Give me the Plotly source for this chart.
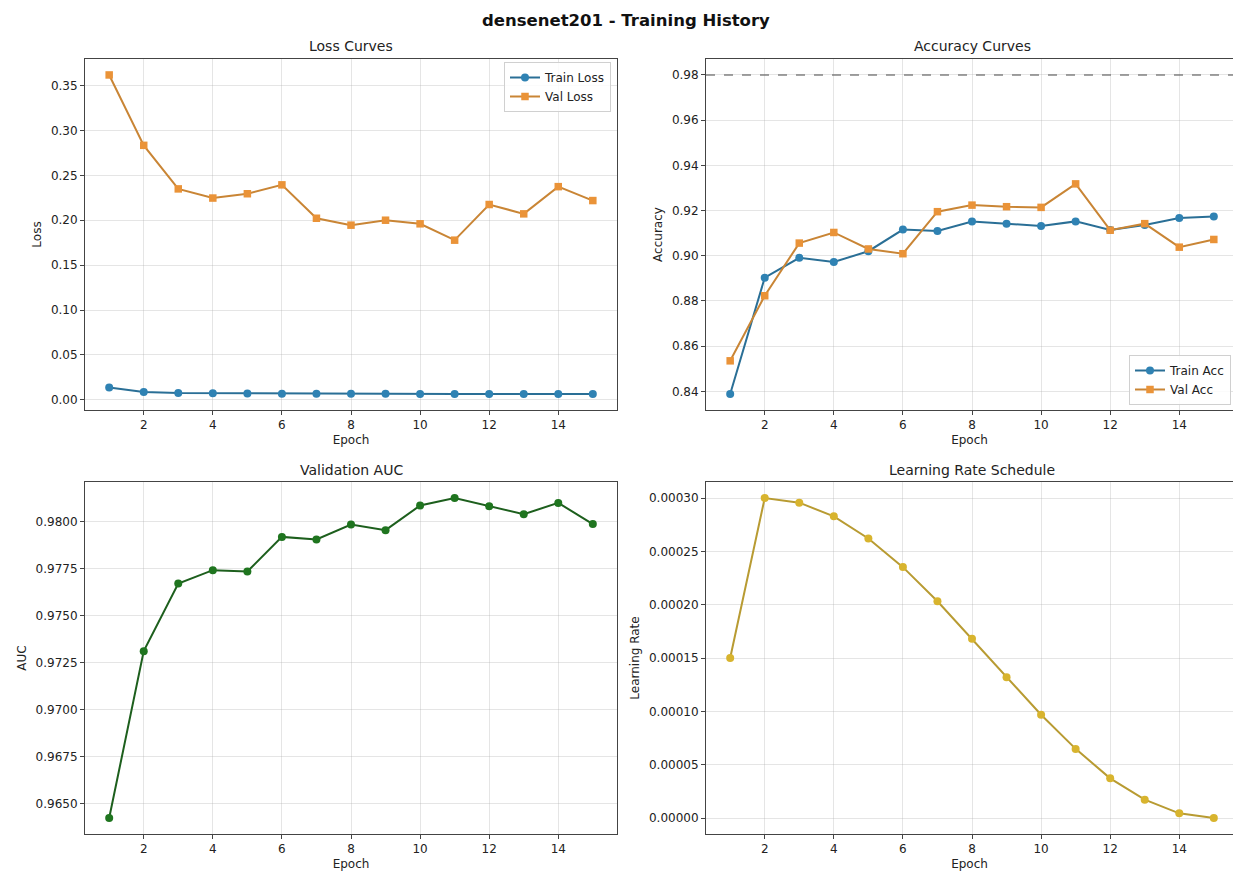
import plotly.graph_objects as go

epochs = list(range(1, 16))
train_loss = [0.0136, 0.0088, 0.0075, 0.0073, 0.0070, 0.0068, 0.0067, 0.0066, 0.0066, 0.0065, 0.0065, 0.0065, 0.0065, 0.0064, 0.0064]
val_loss = [0.3618, 0.2834, 0.2349, 0.2247, 0.2295, 0.2394, 0.2022, 0.1945, 0.2000, 0.1960, 0.1778, 0.2175, 0.2071, 0.2374, 0.2219]
train_acc = [0.8388, 0.8903, 0.8991, 0.8972, 0.9020, 0.9116, 0.9110, 0.9151, 0.9142, 0.9132, 0.9152, 0.9114, 0.9136, 0.9167, 0.9174]
val_acc = [0.8535, 0.8823, 0.9056, 0.9103, 0.9030, 0.9009, 0.9195, 0.9224, 0.9217, 0.9214, 0.9318, 0.9113, 0.9142, 0.9038, 0.9072]
val_auc = [0.96424, 0.97312, 0.97672, 0.97743, 0.97736, 0.97920, 0.97906, 0.97986, 0.97956, 0.98087, 0.98127, 0.98083, 0.98041, 0.98101, 0.97988]
learning_rate = [0.000150, 0.000300, 0.0002956, 0.0002828, 0.000262, 0.0002352, 0.0002032, 0.000168, 0.000132, 0.0000968, 0.0000648, 0.0000372, 0.0000172, 0.0000044, 0.0]
target_acc = 0.98

x_ticks = [2, 4, 6, 8, 10, 12, 14]
loss_ticks = [0.00, 0.05, 0.10, 0.15, 0.20, 0.25, 0.30, 0.35]
acc_ticks = [0.84, 0.86, 0.88, 0.90, 0.92, 0.94, 0.96, 0.98]
auc_ticks = [0.9650, 0.9675, 0.9700, 0.9725, 0.9750, 0.9775, 0.9800]
lr_ticks = [0.0, 0.00005, 0.00010, 0.00015, 0.00020, 0.00025, 0.00030]

W, H = 1233, 875
FONT = "DejaVu Sans"

def px_x(p):
    return p / W

def px_y(p):
    return 1 - p / H

def pad_range(vals):
    lo, hi = min(vals), max(vals)
    m = (hi - lo) * 0.05
    return [lo - m, hi + m]

C_TRAIN_L, C_TRAIN_M = "#2a6f96", "#2f82b3"
C_VAL_L, C_VAL_M = "#c98535", "#ea9338"
C_AUC_L, C_AUC_M = "#1d5f1d", "#1f751f"
C_LR_L, C_LR_M = "#b89b32", "#d8b42e"

fig = go.Figure()

fig.add_trace(go.Scatter(x=epochs, y=train_loss, mode="lines+markers", name="Train Loss",
                         line=dict(color=C_TRAIN_L, width=2), marker=dict(color=C_TRAIN_M, size=8, symbol="circle"),
                         xaxis="x", yaxis="y", legend="legend"))
fig.add_trace(go.Scatter(x=epochs, y=val_loss, mode="lines+markers", name="Val Loss",
                         line=dict(color=C_VAL_L, width=2), marker=dict(color=C_VAL_M, size=7.5, symbol="square"),
                         xaxis="x", yaxis="y", legend="legend"))
fig.add_trace(go.Scatter(x=epochs, y=train_acc, mode="lines+markers", name="Train Acc",
                         line=dict(color=C_TRAIN_L, width=2), marker=dict(color=C_TRAIN_M, size=8, symbol="circle"),
                         xaxis="x2", yaxis="y2", legend="legend2"))
fig.add_trace(go.Scatter(x=epochs, y=val_acc, mode="lines+markers", name="Val Acc",
                         line=dict(color=C_VAL_L, width=2), marker=dict(color=C_VAL_M, size=7.5, symbol="square"),
                         xaxis="x2", yaxis="y2", legend="legend2"))
fig.add_trace(go.Scatter(x=epochs, y=val_auc, mode="lines+markers", name="Val AUC", showlegend=False,
                         line=dict(color=C_AUC_L, width=2), marker=dict(color=C_AUC_M, size=8, symbol="circle"),
                         xaxis="x3", yaxis="y3"))
fig.add_trace(go.Scatter(x=epochs, y=learning_rate, mode="lines+markers", name="Learning Rate", showlegend=False,
                         line=dict(color=C_LR_L, width=2), marker=dict(color=C_LR_M, size=8, symbol="circle"),
                         xaxis="x4", yaxis="y4"))

fig.add_shape(type="line", xref="x2 domain", yref="y2", x0=0, x1=1, y0=target_acc, y1=target_acc,
              line=dict(color="rgba(110,110,110,0.85)", width=1.5, dash="dash"), layer="above")

left_dom = [px_x(85), px_x(617)]
right_dom = [px_x(706), 1.0]
top_dom = [px_y(410), px_y(59)]
bot_dom = [px_y(834), px_y(482)]

# right panels extend slightly past the page edge in the reference
right_xmax = 15.7 - (1238 - 1233) / 532 * 15.4

grid_c = "rgba(170,170,170,0.3)"
axis_c = "#444444"
tick_font = dict(family=FONT, size=12, color="#222222")
title_font = dict(family=FONT, size=12, color="#222222")

def xax(dom, anchor, rng):
    return dict(domain=dom, anchor=anchor, range=rng, tickmode="array", tickvals=x_ticks,
                ticks="outside", ticklen=4, tickcolor=axis_c, showline=True, linecolor=axis_c, linewidth=1,
                mirror=True, showgrid=True, gridcolor=grid_c, gridwidth=1, zeroline=False,
                tickfont=tick_font, title=dict(text="Epoch", font=title_font, standoff=4))

def yax(dom, anchor, rng, tv, fmt, label, mirror=True):
    return dict(domain=dom, anchor=anchor, range=rng, tickmode="array", tickvals=tv, tickformat=fmt,
                ticks="outside", ticklen=4, tickcolor=axis_c, showline=True, linecolor=axis_c, linewidth=1,
                mirror=mirror, showgrid=True, gridcolor=grid_c, gridwidth=1, zeroline=False,
                tickfont=tick_font, title=dict(text=label, font=title_font, standoff=6))

acc_rng = pad_range(train_acc + val_acc + [target_acc])

fig.update_layout(
    width=W, height=H,
    margin=dict(l=0, r=0, t=0, b=0),
    paper_bgcolor="white", plot_bgcolor="white",
    font=dict(family=FONT, size=12, color="#222222"),
    xaxis=xax(left_dom, "y", [0.3, 15.7]),
    yaxis=yax(top_dom, "x", pad_range(train_loss + val_loss), loss_ticks, ".2f", "Loss"),
    xaxis2=xax(right_dom, "y2", [0.3, right_xmax]),
    yaxis2=yax(top_dom, "x2", acc_rng, acc_ticks, ".2f", "Accuracy", mirror=False),
    xaxis3=xax(left_dom, "y3", [0.3, 15.7]),
    yaxis3=yax(bot_dom, "x3", pad_range(val_auc), auc_ticks, ".4f", "AUC"),
    xaxis4=xax(right_dom, "y4", [0.3, right_xmax]),
    yaxis4=yax(bot_dom, "x4", pad_range(learning_rate), lr_ticks, ".5f", "Learning Rate", mirror=False),
    legend=dict(x=px_x(611), y=px_y(62), xanchor="right", yanchor="top",
                bgcolor="rgba(255,255,255,0.85)", bordercolor="#d0d0d0", borderwidth=1,
                font=dict(family=FONT, size=12, color="#222222"), itemwidth=30, tracegroupgap=0),
    legend2=dict(x=px_x(1231), y=px_y(405), xanchor="right", yanchor="bottom",
                 bgcolor="rgba(255,255,255,0.85)", bordercolor="#d0d0d0", borderwidth=1,
                 font=dict(family=FONT, size=12, color="#222222"), itemwidth=30, tracegroupgap=0),
    showlegend=True,
)

annotations = [
    dict(text="<b>densenet201 - Training History</b>", x=px_x(626), y=px_y(20), xref="paper", yref="paper",
         showarrow=False, font=dict(family=FONT, size=16.5, color="#111111"), xanchor="center", yanchor="middle"),
    dict(text="Loss Curves", x=px_x(351), y=px_y(46), xref="paper", yref="paper",
         showarrow=False, font=dict(family=FONT, size=14, color="#222222"), xanchor="center", yanchor="middle"),
    dict(text="Accuracy Curves", x=px_x(972), y=px_y(46), xref="paper", yref="paper",
         showarrow=False, font=dict(family=FONT, size=14, color="#222222"), xanchor="center", yanchor="middle"),
    dict(text="Validation AUC", x=px_x(351), y=px_y(470), xref="paper", yref="paper",
         showarrow=False, font=dict(family=FONT, size=14, color="#222222"), xanchor="center", yanchor="middle"),
    dict(text="Learning Rate Schedule", x=px_x(972), y=px_y(470), xref="paper", yref="paper",
         showarrow=False, font=dict(family=FONT, size=14, color="#222222"), xanchor="center", yanchor="middle"),
]
fig.update_layout(annotations=annotations)

fig.write_html("out.html")
